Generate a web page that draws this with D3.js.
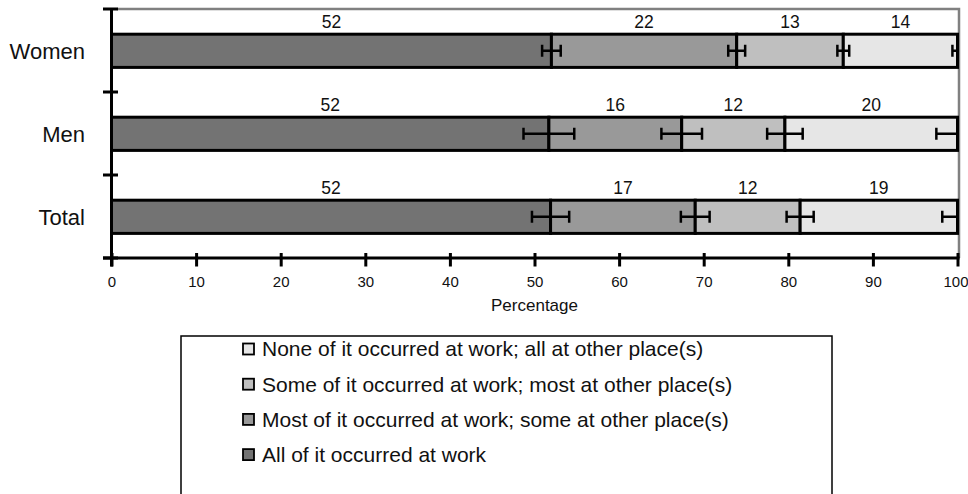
<!DOCTYPE html>
<html>
<head>
<meta charset="utf-8">
<script src="https://cdn.jsdelivr.net/npm/d3@7"></script>
<style>
  html, body { margin: 0; padding: 0; background: #fff; }
  svg { display: block; font-family: "Liberation Sans", Arial, Helvetica, sans-serif; }
</style>
</head>
<body>
<svg id="chart" width="968" height="494"></svg>
<script>
// ---- data ----
const categories = ["Women", "Men", "Total"];
const seriesNames = [
  "All of it occurred at work",
  "Most of it occurred at work; some at other place(s)",
  "Some of it occurred at work; most at other place(s)",
  "None of it occurred at work; all at other place(s)"
];
const womenValues = [52.0, 21.9, 12.6, 13.5];
const menValues   = [51.7, 15.7, 12.2, 20.4];
const totalValues = [51.9, 17.1, 12.4, 18.6];
const womenErrors = [1.1, 1.0, 0.7, 0.6];
const menErrors   = [3.0, 2.4, 2.1, 2.5];
const totalErrors = [2.2, 1.7, 1.6, 1.8];
const xTicks = [0, 10, 20, 30, 40, 50, 60, 70, 80, 90, 100];
const xTitle = "Percentage";
const colors = ["#737373", "#999999", "#bfbfbf", "#e6e6e6"];

const valuesByCat = { Women: womenValues, Men: menValues, Total: totalValues };
const errorsByCat = { Women: womenErrors, Men: menErrors, Total: totalErrors };

// ---- layout ----
const svg = d3.select("#chart");
const pLeft = 111.5, pRight = 957.5, pTop = 9, pBottom = 258;

const x = d3.scaleLinear().domain([0, 100]).range([pLeft, pRight]);
const y = d3.scaleBand().domain(categories).range([pTop, pBottom]).padding(0);
const barH = y.bandwidth() * 0.40;
const barOff = (y.bandwidth() - barH) / 2 + 0.3;

// clip for error bars
svg.append("defs").append("clipPath").attr("id", "plotclip")
  .append("rect").attr("x", pLeft).attr("y", pTop).attr("width", pRight - pLeft + 1.5).attr("height", pBottom - pTop);

// gray frame (top and right)
svg.append("path")
  .attr("d", `M${pLeft + 6},${pTop} H${pRight + 1.5} V${pBottom}`)
  .attr("fill", "none").attr("stroke", "#808080").attr("stroke-width", 2.5);

// stacked data
const stacked = [];
categories.forEach(cat => {
  let cum = 0;
  valuesByCat[cat].forEach((v, i) => {
    stacked.push({ cat, i, x0: cum, x1: cum + v, v, err: errorsByCat[cat][i] });
    cum += v;
  });
});

// bars
svg.append("g").selectAll("rect").data(stacked).join("rect")
  .attr("x", d => x(d.x0))
  .attr("y", d => y(d.cat) + barOff)
  .attr("width", d => x(d.x1) - x(d.x0))
  .attr("height", barH)
  .attr("fill", d => colors[d.i])
  .attr("stroke", "#000").attr("stroke-width", 3);

// error bars
const eg = svg.append("g").attr("clip-path", "url(#plotclip)")
  .attr("stroke", "#000").attr("stroke-width", 2.5).attr("fill", "none");
stacked.forEach(d => {
  const cy = y(d.cat) + barOff + barH / 2;
  const xa = x(d.x1 - d.err), xb = x(d.x1 + d.err);
  eg.append("line").attr("x1", xa).attr("x2", xb).attr("y1", cy).attr("y2", cy);
  eg.append("line").attr("x1", xa).attr("x2", xa).attr("y1", cy - 6).attr("y2", cy + 6);
  eg.append("line").attr("x1", xb).attr("x2", xb).attr("y1", cy - 6).attr("y2", cy + 6);
});

// value labels
svg.append("g").selectAll("text").data(stacked).join("text")
  .attr("x", d => x((d.x0 + d.x1) / 2))
  .attr("y", d => y(d.cat) + barOff - 6.5)
  .attr("text-anchor", "middle")
  .attr("font-size", 17.5)
  .attr("fill", "#111")
  .text(d => Math.round(d.v));

// x axis
const xAxis = d3.axisBottom(x).tickValues(xTicks).tickSize(0).tickPadding(0).tickFormat(d3.format("d"));
const xg = svg.append("g").attr("transform", `translate(0,${pBottom})`).call(xAxis);
xg.select(".domain").remove();
xg.selectAll("text").attr("font-size", 15).attr("fill", "#111").attr("dy", null).attr("y", 29)
  .attr("dx", d => d === 100 ? -2 : 0)
  .attr("font-family", "Liberation Sans, Arial, sans-serif");
xg.selectAll(".tick").append("line")
  .attr("y1", -5).attr("y2", 8.5).attr("stroke", "#000").attr("stroke-width", 3);
svg.append("line").attr("x1", pLeft - 8.5).attr("x2", pRight + 2).attr("y1", pBottom).attr("y2", pBottom)
  .attr("stroke", "#000").attr("stroke-width", 3);

// y axis
svg.append("line").attr("x1", pLeft).attr("x2", pLeft).attr("y1", pTop - 1).attr("y2", pBottom + 8.5)
  .attr("stroke", "#000").attr("stroke-width", 3);
const yTickPos = categories.map(c => y(c)).concat([pBottom]);
svg.append("g").selectAll("line").data(yTickPos).join("line")
  .attr("x1", pLeft - 8.5).attr("x2", pLeft + 6.5).attr("y1", d => d).attr("y2", d => d)
  .attr("stroke", "#000").attr("stroke-width", 3);
svg.append("g").selectAll("text").data(categories).join("text")
  .attr("x", 85).attr("y", d => y(d) + barOff + barH / 2)
  .attr("dy", "0.36em")
  .attr("text-anchor", "end").attr("font-size", 22).attr("fill", "#111")
  .text(d => d);

// x title
svg.append("text").attr("x", (pLeft + pRight) / 2).attr("y", 311)
  .attr("text-anchor", "middle").attr("font-size", 17).attr("fill", "#111").text(xTitle);

// legend
svg.append("rect").attr("x", 181).attr("y", 336).attr("width", 651).attr("height", 170)
  .attr("fill", "#fff").attr("stroke", "#000").attr("stroke-width", 1.5);
const legendOrder = [3, 2, 1, 0];
const lg = svg.append("g").selectAll("g").data(legendOrder).join("g")
  .attr("transform", (d, k) => `translate(243,${349 + k * 35.2})`);
lg.append("rect").attr("x", 0).attr("y", -5.5).attr("width", 11).attr("height", 11)
  .attr("fill", d => colors[d]).attr("stroke", "#000").attr("stroke-width", 1.8);
lg.append("text").attr("x", 19).attr("y", 0).attr("dy", "0.35em")
  .attr("font-size", 21).attr("fill", "#111").text(d => seriesNames[d]);
</script>
</body>
</html>
